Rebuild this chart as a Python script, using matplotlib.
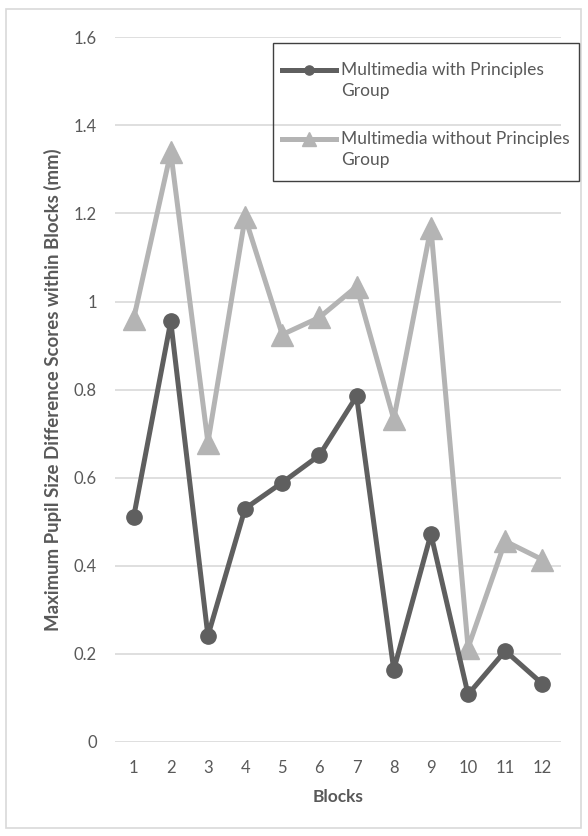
import matplotlib.pyplot as plt
from matplotlib.patches import Rectangle

blocks = list(range(1, 13))
with_principles = [0.51, 0.955, 0.241, 0.530, 0.589, 0.651, 0.785, 0.164, 0.472, 0.108, 0.207, 0.132]
without_principles = [0.96, 1.339, 0.680, 1.191, 0.925, 0.964, 1.034, 0.733, 1.168, 0.214, 0.456, 0.414]
series_labels = ['Multimedia with Principles\nGroup', 'Multimedia without Principles\nGroup']

TEXT = '#595959'
DARK = '#5f5f5f'
LIGHT = '#b4b4b4'
GRID = '#d9d9d9'

plt.rcParams['font.family'] = ['Lato', 'DejaVu Sans']

W, H = 588, 836
fig = plt.figure(figsize=(W / 100, H / 100), dpi=100)

# chart border
fig.add_artist(Rectangle((6 / W, 1 - 828 / H), 575 / W, 819 / H, transform=fig.transFigure,
                         fill=False, edgecolor=GRID, lw=1.2))

ax = fig.add_axes([115 / W, 1 - 742 / H, 446 / W, 704.7 / H])
ax.plot(blocks, with_principles, color=DARK, lw=3.6, marker='o', ms=11,
        label=series_labels[0], zorder=3)
ax.plot(blocks, without_principles, color=LIGHT, lw=3.6, marker='^', ms=16.5,
        label=series_labels[1], zorder=2)

ax.set_xlim(0.5, 12.5)
ax.set_ylim(0, 1.6)
ax.set_xticks(blocks)
ax.set_yticks([0, 0.2, 0.4, 0.6, 0.8, 1.0, 1.2, 1.4, 1.6])
ax.set_yticklabels(['0', '0.2', '0.4', '0.6', '0.8', '1', '1.2', '1.4', '1.6'])
ax.tick_params(length=0, labelsize=12, colors=TEXT)
ax.tick_params(axis='y', pad=13)
ax.tick_params(axis='x', pad=13)
ax.grid(axis='y', color=GRID, lw=1.2)
ax.set_axisbelow(True)
for s in ax.spines.values():
    s.set_visible(False)

ax.set_xlabel('Blocks', fontsize=12.5, fontweight='bold', color=TEXT)
ax.xaxis.set_label_coords(0.5, -0.066)
ax.set_ylabel('Maximum Pupil Size Difference Scores within Blocks (mm)', fontsize=13.4,
              fontweight='bold', color=TEXT)
ax.yaxis.set_label_coords(-0.118, 0.5)

# legend box drawn separately so its size can be fixed
fig.add_artist(Rectangle((272.7 / W, 1 - 181 / H), 306.6 / W, 137.7 / H,
                         transform=fig.transFigure, fill=False, edgecolor='#404040', lw=1.0))
leg = fig.legend(loc='upper left', bbox_to_anchor=(282 / W, 1 - 62 / H),
                 fontsize=12.5, handlelength=3.1, handletextpad=0.3, labelspacing=1.85,
                 borderpad=0, borderaxespad=0, frameon=False, labelcolor=TEXT)
for t in leg.get_texts():
    t.set_linespacing(1.38)
# line up each legend sample with the first line of its label
for h in leg.legend_handles:
    h.set_markersize(h.get_markersize() * 0.6)
    h.set_ydata([y + 8 for y in h.get_ydata()])

fig.savefig('out.png', dpi=100)
